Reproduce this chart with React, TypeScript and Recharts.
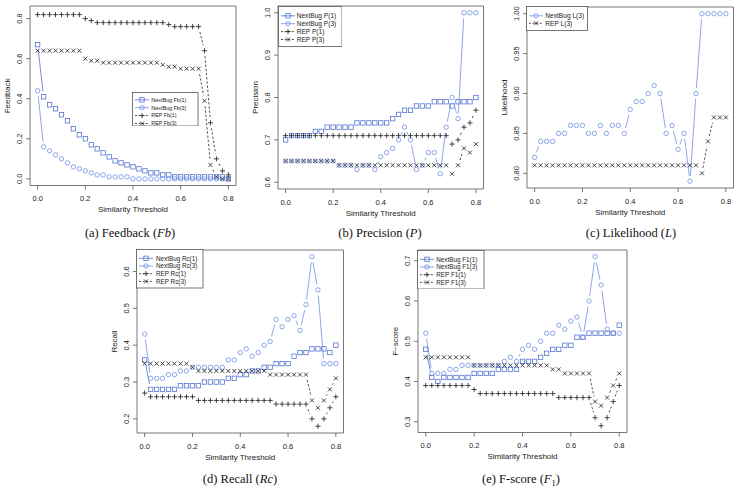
import React from 'react'
import { LineChart, Line, XAxis, YAxis, ReferenceArea } from 'recharts'

// similarity thresholds on the x axis of every panel
const thresholds = [
  0, 0.025, 0.05, 0.075, 0.1, 0.125, 0.15, 0.175, 0.2, 0.225, 0.25, 0.275, 0.3, 0.325, 0.35, 0.375,
  0.4, 0.425, 0.45, 0.475, 0.5, 0.525, 0.55, 0.575, 0.6, 0.625, 0.65, 0.675, 0.7, 0.725, 0.75, 0.775, 0.8,
]
const xTicks = [0, 0.2, 0.4, 0.6, 0.8]

// (a) Feedback
const nextBugFb1 = [0.67, 0.41, 0.37, 0.35, 0.32, 0.29, 0.25, 0.22, 0.2, 0.17, 0.15, 0.13, 0.11, 0.09, 0.08, 0.07, 0.06, 0.05, 0.04, 0.03, 0.03, 0.02, 0.02, 0.01, 0.01, 0.01, 0.01, 0.01, 0.01, 0.01, 0.01, 0.01, 0.0]
const nextBugFb3 = [0.44, 0.16, 0.14, 0.12, 0.1, 0.08, 0.06, 0.05, 0.04, 0.03, 0.02, 0.02, 0.01, 0.01, 0.01, 0.01, 0, 0, 0, 0, 0, 0, 0, 0, 0, 0, 0, 0, 0, 0, 0, 0, 0]
const repFb1 = [0.82, 0.82, 0.82, 0.82, 0.82, 0.82, 0.82, 0.82, 0.8, 0.79, 0.78, 0.78, 0.78, 0.78, 0.78, 0.78, 0.78, 0.78, 0.78, 0.78, 0.78, 0.78, 0.77, 0.76, 0.76, 0.76, 0.76, 0.76, 0.64, 0.28, 0.1, 0.04, 0.02]
const repFb3 = [0.64, 0.64, 0.64, 0.64, 0.64, 0.64, 0.64, 0.64, 0.6, 0.59, 0.59, 0.58, 0.58, 0.58, 0.58, 0.58, 0.58, 0.58, 0.58, 0.58, 0.58, 0.57, 0.56, 0.56, 0.55, 0.55, 0.55, 0.55, 0.39, 0.07, 0.01, 0, 0]

// (b) Precision
const nextBugP1 = [0.7, 0.71, 0.71, 0.71, 0.71, 0.72, 0.72, 0.73, 0.73, 0.73, 0.73, 0.73, 0.74, 0.74, 0.74, 0.74, 0.74, 0.74, 0.75, 0.76, 0.77, 0.77, 0.78, 0.78, 0.78, 0.79, 0.79, 0.79, 0.78, 0.79, 0.79, 0.79, 0.8]
const nextBugP3 = [0.65, 0.65, 0.65, 0.65, 0.65, 0.65, 0.65, 0.65, 0.65, 0.64, 0.64, 0.64, 0.63, 0.64, 0.64, 0.63, 0.66, 0.67, 0.68, 0.7, 0.73, 0.7, 0.63, 0.64, 0.67, 0.67, 0.62, 0.73, 0.8, 0.75, 1.0, 1.0, 1.0]
const repP1 = [0.71, 0.71, 0.71, 0.71, 0.71, 0.71, 0.71, 0.71, 0.71, 0.71, 0.71, 0.71, 0.71, 0.71, 0.71, 0.71, 0.71, 0.71, 0.71, 0.71, 0.71, 0.71, 0.71, 0.71, 0.71, 0.71, 0.71, 0.71, 0.69, 0.7, 0.73, 0.74, 0.77]
const repP3 = [0.65, 0.65, 0.65, 0.65, 0.65, 0.65, 0.65, 0.65, 0.65, 0.64, 0.64, 0.64, 0.64, 0.64, 0.64, 0.64, 0.64, 0.64, 0.64, 0.64, 0.64, 0.64, 0.64, 0.64, 0.64, 0.64, 0.64, 0.64, 0.62, 0.64, 0.68, 0.67, 0.69]

// (c) Likelihood
const nextBugL3 = [0.82, 0.84, 0.84, 0.84, 0.85, 0.85, 0.86, 0.86, 0.86, 0.85, 0.85, 0.86, 0.85, 0.86, 0.86, 0.85, 0.88, 0.89, 0.89, 0.9, 0.91, 0.9, 0.85, 0.86, 0.83, 0.85, 0.79, 0.9, 1.0, 1.0, 1.0, 1.0, 1.0]
const repL3 = [0.81, 0.81, 0.81, 0.81, 0.81, 0.81, 0.81, 0.81, 0.81, 0.81, 0.81, 0.81, 0.81, 0.81, 0.81, 0.81, 0.81, 0.81, 0.81, 0.81, 0.81, 0.81, 0.81, 0.81, 0.81, 0.81, 0.81, 0.81, 0.8, 0.84, 0.87, 0.87, 0.87]

// (d) Recall
const nextBugRc1 = [0.36, 0.28, 0.28, 0.28, 0.28, 0.28, 0.29, 0.29, 0.29, 0.29, 0.3, 0.3, 0.3, 0.3, 0.31, 0.31, 0.32, 0.32, 0.33, 0.33, 0.34, 0.34, 0.35, 0.35, 0.35, 0.37, 0.38, 0.38, 0.39, 0.39, 0.39, 0.38, 0.4]
const nextBugRc3 = [0.43, 0.31, 0.31, 0.31, 0.32, 0.32, 0.33, 0.33, 0.34, 0.34, 0.34, 0.34, 0.34, 0.34, 0.36, 0.36, 0.38, 0.39, 0.37, 0.38, 0.4, 0.41, 0.47, 0.45, 0.47, 0.48, 0.44, 0.51, 0.64, 0.55, 0.35, 0.35, 0.35]
const repRc1 = [0.27, 0.26, 0.26, 0.26, 0.26, 0.26, 0.26, 0.26, 0.26, 0.25, 0.25, 0.25, 0.25, 0.25, 0.25, 0.25, 0.25, 0.25, 0.25, 0.25, 0.25, 0.25, 0.24, 0.24, 0.24, 0.24, 0.24, 0.24, 0.2, 0.18, 0.2, 0.23, 0.26]
const repRc3 = [0.35, 0.35, 0.35, 0.35, 0.35, 0.35, 0.35, 0.35, 0.34, 0.33, 0.33, 0.33, 0.33, 0.33, 0.33, 0.33, 0.33, 0.33, 0.33, 0.33, 0.33, 0.32, 0.32, 0.32, 0.32, 0.32, 0.32, 0.32, 0.25, 0.23, 0.25, 0.28, 0.31]

// (e) F-score
const nextBugF11 = [0.48, 0.41, 0.4, 0.41, 0.41, 0.41, 0.41, 0.41, 0.42, 0.42, 0.42, 0.42, 0.43, 0.43, 0.43, 0.43, 0.45, 0.45, 0.45, 0.46, 0.47, 0.48, 0.48, 0.49, 0.49, 0.51, 0.51, 0.52, 0.52, 0.52, 0.52, 0.52, 0.54]
const nextBugF13 = [0.52, 0.42, 0.42, 0.42, 0.43, 0.43, 0.44, 0.44, 0.44, 0.44, 0.44, 0.44, 0.44, 0.45, 0.46, 0.45, 0.48, 0.49, 0.48, 0.5, 0.52, 0.52, 0.54, 0.53, 0.55, 0.56, 0.51, 0.6, 0.71, 0.64, 0.53, 0.52, 0.52]
const repF11 = [0.39, 0.39, 0.39, 0.39, 0.39, 0.39, 0.39, 0.39, 0.38, 0.37, 0.37, 0.37, 0.37, 0.37, 0.37, 0.37, 0.37, 0.37, 0.37, 0.37, 0.37, 0.37, 0.36, 0.36, 0.36, 0.36, 0.36, 0.36, 0.31, 0.29, 0.31, 0.35, 0.39]
const repF13 = [0.46, 0.46, 0.46, 0.46, 0.46, 0.46, 0.46, 0.46, 0.44, 0.44, 0.44, 0.44, 0.44, 0.44, 0.44, 0.44, 0.44, 0.44, 0.44, 0.44, 0.44, 0.43, 0.43, 0.42, 0.42, 0.42, 0.42, 0.42, 0.35, 0.34, 0.36, 0.39, 0.42]

type Kind = 'nb1' | 'nb3' | 'rep1' | 'rep3'

const BLUE_1 = '#4a6bd1'
const BLUE_3 = '#6a89e3'
const INK = '#1a1a1a'
const FRAME = '#555'
const SANS = '"Liberation Sans", Arial, Helvetica, sans-serif'
const SERIF = '"Liberation Serif", "Times New Roman", serif'
const GAP = 5.5 // R type="b": lines stop short of each point
const X_DOMAIN: [number, number] = [-0.032, 0.832]

const looks: Record<Kind, { color: string; dash?: string }> = {
  nb1: { color: BLUE_1 },
  nb3: { color: BLUE_3 },
  rep1: { color: INK, dash: '2.4 1.8' },
  rep3: { color: INK, dash: '2.4 1.8' },
}

function Marker({ kind, x, y }: { kind: Kind; x: number; y: number }) {
  const c = looks[kind].color
  if (kind === 'nb1')
    return <rect x={x - 2.2} y={y - 2.2} width={4.4} height={4.4} fill="none" stroke={c} strokeWidth={0.75} />
  if (kind === 'nb3') return <circle cx={x} cy={y} r={2.2} fill="none" stroke={c} strokeWidth={0.75} />
  if (kind === 'rep1')
    return <path d={`M${x - 2.6},${y}H${x + 2.6}M${x},${y - 2.6}V${y + 2.6}`} stroke={c} strokeWidth={0.8} />
  return <path d={`M${x - 2},${y - 2}L${x + 2},${y + 2}M${x - 2},${y + 2}L${x + 2},${y - 2}`} stroke={c} strokeWidth={0.8} />
}

// marker plus the gapped segment to the next point
function makeDot(kind: Kind) {
  const { color, dash } = looks[kind]
  return (props: any) => {
    const { cx, cy, index, points } = props
    let seg = null
    const next = points && points[index + 1]
    if (next && next.x != null && next.y != null && cx != null && cy != null) {
      const dx = next.x - cx
      const dy = next.y - cy
      const f = Math.hypot(dx, dy)
      if (f > 2 * GAP) {
        const k = GAP / f
        seg = (
          <line x1={cx + k * dx} y1={cy + k * dy} x2={next.x - k * dx} y2={next.y - k * dy}
            stroke={color} strokeWidth={0.75} strokeDasharray={dash} />
        )
      }
    }
    if (cx == null || cy == null) return <g key={`dot-${kind}-${index}`} />
    return (
      <g key={`dot-${kind}-${index}`}>
        {seg}
        <Marker kind={kind} x={cx} y={cy} />
      </g>
    )
  }
}

interface Series { key: string; label: string; kind: Kind; values: number[] }
interface PanelDef {
  box: [number, number, number, number]
  yDomain: [number, number]
  yTicks: number[]
  yDigits: number
  yTitle: string
  series: Series[]
  legend: { x: number; y: number; w: number; h: number; row0: number; step: number; font: number; textX: number }
}

const panels: PanelDef[] = [
  {
    box: [29.5, 6, 235.5, 185.5],
    yDomain: [-0.033, 0.863],
    yTicks: [0, 0.2, 0.4, 0.6, 0.8],
    yDigits: 1,
    yTitle: 'Feedback',
    series: [
      { key: 'nb1', label: 'NextBug Fb(1)', kind: 'nb1', values: nextBugFb1 },
      { key: 'nb3', label: 'NextBug Fb(3)', kind: 'nb3', values: nextBugFb3 },
      { key: 'rep1', label: 'REP Fb(1)', kind: 'rep1', values: repFb1 },
      { key: 'rep3', label: 'REP Fb(3)', kind: 'rep3', values: repFb3 },
    ],
    legend: { x: 132.5, y: 92, w: 65.5, h: 33.5, row0: 7.3, step: 7.9, font: 5.4, textX: 19.3 },
  },
  {
    box: [278, 6, 483.5, 189],
    yDomain: [0.584, 1.016],
    yTicks: [0.6, 0.7, 0.8, 0.9, 1.0],
    yDigits: 1,
    yTitle: 'Precision',
    series: [
      { key: 'nb1', label: 'NextBug P(1)', kind: 'nb1', values: nextBugP1 },
      { key: 'nb3', label: 'NextBug P(3)', kind: 'nb3', values: nextBugP3 },
      { key: 'rep1', label: 'REP P(1)', kind: 'rep1', values: repP1 },
      { key: 'rep3', label: 'REP P(3)', kind: 'rep3', values: repP3 },
    ],
    legend: { x: 278, y: 6, w: 63.5, h: 40, row0: 9.3, step: 7.9, font: 6.6, textX: 18.7 },
  },
  {
    box: [526.5, 6.5, 733, 187.5],
    yDomain: [0.7816, 1.0084],
    yTicks: [0.8, 0.85, 0.9, 0.95, 1.0],
    yDigits: 2,
    yTitle: 'Likelihood',
    series: [
      { key: 'nb3', label: 'NextBug L(3)', kind: 'nb3', values: nextBugL3 },
      { key: 'rep3', label: 'REP L(3)', kind: 'rep3', values: repL3 },
    ],
    legend: { x: 526.5, y: 6.5, w: 61, h: 24, row0: 9.3, step: 7.5, font: 6.6, textX: 19.3 },
  },
  {
    box: [136.5, 249.5, 343, 432.5],
    yDomain: [0.1616, 0.6584],
    yTicks: [0.2, 0.3, 0.4, 0.5, 0.6],
    yDigits: 1,
    yTitle: 'Recall',
    series: [
      { key: 'nb1', label: 'NextBug Rc(1)', kind: 'nb1', values: nextBugRc1 },
      { key: 'nb3', label: 'NextBug Rc(3)', kind: 'nb3', values: nextBugRc3 },
      { key: 'rep1', label: 'REP Rc(1)', kind: 'rep1', values: repRc1 },
      { key: 'rep3', label: 'REP Rc(3)', kind: 'rep3', values: repRc3 },
    ],
    legend: { x: 136.5, y: 249.5, w: 66.5, h: 38.5, row0: 8.8, step: 7.7, font: 6.3, textX: 20 },
  },
  {
    box: [417.5, 250, 626.5, 432.5],
    yDomain: [0.2732, 0.7268],
    yTicks: [0.3, 0.4, 0.5, 0.6, 0.7],
    yDigits: 1,
    yTitle: 'F\u2212score',
    series: [
      { key: 'nb1', label: 'NextBug F1(1)', kind: 'nb1', values: nextBugF11 },
      { key: 'nb3', label: 'NextBug F1(3)', kind: 'nb3', values: nextBugF13 },
      { key: 'rep1', label: 'REP F1(1)', kind: 'rep1', values: repF11 },
      { key: 'rep3', label: 'REP F1(3)', kind: 'rep3', values: repF13 },
    ],
    legend: { x: 417.5, y: 250, w: 66.5, h: 38.5, row0: 8.8, step: 7.7, font: 6.3, textX: 19.3 },
  },
]

function LegendBox({ def }: { def: PanelDef }) {
  const { x, y, w, h, row0, step, font, textX } = def.legend
  return (
    <svg style={{ position: 'absolute', left: x - 0.5, top: y - 0.5 }} width={w + 1} height={h + 1}>
      <rect x={0.5} y={0.5} width={w} height={h} fill="#fff" stroke={FRAME} strokeWidth={0.8} />
      {def.series.map((s, i) => {
        const cy = 0.5 + row0 + i * step
        const { color, dash } = looks[s.kind]
        return (
          <g key={s.key}>
            <line x1={3} x2={17} y1={cy} y2={cy} stroke={color} strokeWidth={0.75} strokeDasharray={dash ? '2 1.6' : undefined} />
            <Marker kind={s.kind} x={10} y={cy} />
            <text x={textX} y={cy} dy="0.35em" fontSize={font} fontFamily={SANS} fill="#222">
              {s.label}
            </text>
          </g>
        )
      })}
    </svg>
  )
}

function Panel({ def }: { def: PanelDef }) {
  const [l, t, r, b] = def.box
  const W = r - l + 34
  const H = b - t + 34
  const plotBottom = H - 30
  const midY = 4 + (b - t) / 2
  const data = thresholds.map((x, i) => {
    const row: Record<string, number> = { x }
    def.series.forEach(s => { row[s.key] = s.values[i] })
    return row
  })

  return (
    <div style={{ position: 'absolute', left: l - 30, top: t - 4 }}>
      <LineChart width={W} height={H} data={data} margin={{ top: 4, right: 4, bottom: 0, left: 0 }}>
        <XAxis
          dataKey="x"
          type="number"
          domain={X_DOMAIN}
          ticks={xTicks}
          interval={0}
          allowDataOverflow
          axisLine={false}
          tickSize={4}
          height={30}
          tickLine={{ stroke: FRAME, strokeWidth: 0.8 }}
          tick={(p: any) => (
            <text x={p.x} y={plotBottom + 15.6} textAnchor="middle" fontSize={7.5} fontFamily={SANS} fill="#222">
              {Number(p.payload.value).toFixed(1)}
            </text>
          )}
          label={() => (
            <text x={30 + (W - 34) / 2} y={plotBottom + 26.5} textAnchor="middle" fontSize={8} fontFamily={SANS} fill="#222">
              Similarity Threshold
            </text>
          )}
        />
        <YAxis
          type="number"
          domain={def.yDomain}
          ticks={def.yTicks}
          interval={0}
          allowDataOverflow
          axisLine={false}
          tickSize={4}
          width={30}
          tickLine={{ stroke: FRAME, strokeWidth: 0.8 }}
          tick={(p: any) => (
            <text x={22.3} y={p.y} transform={`rotate(-90, 22.3, ${p.y})`} textAnchor="middle" fontSize={7.5} fontFamily={SANS} fill="#222">
              {Number(p.payload.value).toFixed(def.yDigits)}
            </text>
          )}
          label={() => (
            <text x={9.8} y={midY} transform={`rotate(-90, 9.8, ${midY})`} textAnchor="middle" fontSize={8} fontFamily={SANS} fill="#222">
              {def.yTitle}
            </text>
          )}
        />
        <ReferenceArea
          x1={X_DOMAIN[0]}
          x2={X_DOMAIN[1]}
          y1={def.yDomain[0]}
          y2={def.yDomain[1]}
          fill="none"
          stroke={FRAME}
          strokeWidth={0.8}
          ifOverflow="visible"
        />
        {def.series.map(s => (
          <Line
            key={s.key}
            dataKey={s.key}
            stroke="none"
            dot={makeDot(s.kind)}
            activeDot={false}
            isAnimationActive={false}
          />
        ))}
      </LineChart>
    </div>
  )
}

const captionStyle: React.CSSProperties = {
  position: 'absolute',
  width: 240,
  textAlign: 'center',
  fontFamily: SERIF,
  fontSize: 12.5,
  lineHeight: '16px',
  color: '#111',
}

export default function App() {
  return (
    <div style={{ position: 'absolute', left: 0, top: 0, width: 739, height: 488, background: '#fff', overflow: 'hidden' }}>
      {panels.map((p, i) => (
        <Panel key={i} def={p} />
      ))}
      {panels.map((p, i) => (
        <LegendBox key={`lg-${i}`} def={p} />
      ))}
      <div style={{ ...captionStyle, left: 130 - 120, top: 225 }}>(a) Feedback (<i>Fb</i>)</div>
      <div style={{ ...captionStyle, left: 380 - 120, top: 225 }}>(b) Precision (<i>P</i>)</div>
      <div style={{ ...captionStyle, left: 631 - 120, top: 225 }}>(c) Likelihood (<i>L</i>)</div>
      <div style={{ ...captionStyle, left: 240 - 120, top: 471 }}>(d) Recall (<i>Rc</i>)</div>
      <div style={{ ...captionStyle, left: 521 - 120, top: 471 }}>
        (e) F-score (<i>F</i>
        <span style={{ fontSize: 8.5, position: 'relative', top: 3, lineHeight: 0 }}>1</span>)
      </div>
    </div>
  )
}
